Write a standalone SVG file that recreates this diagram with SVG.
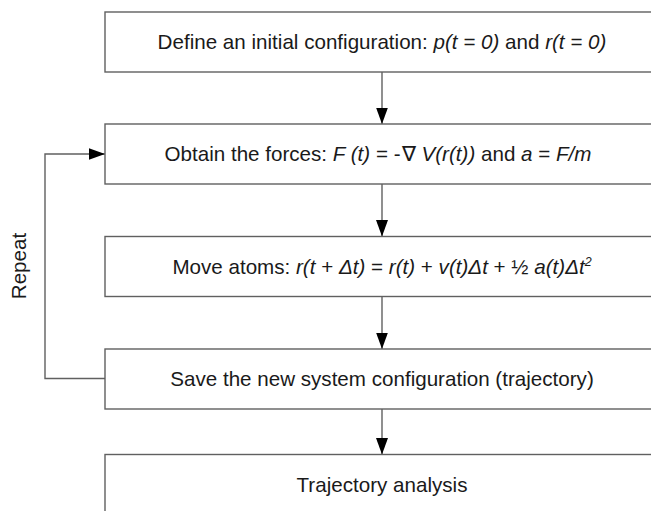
<svg xmlns="http://www.w3.org/2000/svg" width="651" height="511" viewBox="0 0 651 511">
  <style>
    .box { fill: #ffffff; stroke: #606060; stroke-width: 1.4; }
    .lbl { font-family: "Liberation Sans", Arial, sans-serif; font-size: 20.6px; fill: #1a1a1a; text-anchor: middle; }
    .it { font-style: italic; }
    .wire { fill: none; stroke: #606060; stroke-width: 1.4; }
  </style>
  <defs>
    <marker id="head" markerUnits="userSpaceOnUse" markerWidth="17" markerHeight="12" refX="16.5" refY="6" orient="auto">
      <path d="M0,0 L16.5,6 L0,12 z" fill="#000000"/>
    </marker>
  </defs>

  <rect width="651" height="511" fill="#ffffff"/>

  <g id="connectors">
    <line class="wire" x1="382" y1="72" x2="382" y2="124" marker-end="url(#head)"/>
    <line class="wire" x1="382" y1="184" x2="382" y2="236.5" marker-end="url(#head)"/>
    <line class="wire" x1="382" y1="296.5" x2="382" y2="349" marker-end="url(#head)"/>
    <line class="wire" x1="382" y1="409" x2="382" y2="454.5" marker-end="url(#head)"/>
    <polyline class="wire" points="105,378.5 45,378.5 45,154 105,154" marker-end="url(#head)"/>
    <text class="lbl" transform="translate(26,266) rotate(-90)">Repeat</text>
  </g>

  <g id="init">
    <rect class="box" x="105" y="12" width="555" height="60"/>
    <text class="lbl" x="382" y="49.2">Define an initial configuration: <tspan class="it">p(t = 0)</tspan> and <tspan class="it">r(t = 0)</tspan></text>
  </g>

  <g id="forces">
    <rect class="box" x="105" y="124" width="555" height="60"/>
    <text class="lbl" x="378" y="161.2">Obtain the forces: <tspan class="it">F (t)</tspan> = -<tspan dx="1">∇</tspan><tspan class="it" dx="6">V(r(t))</tspan> and <tspan class="it">a</tspan> = <tspan class="it">F/m</tspan></text>
  </g>

  <g id="move">
    <rect class="box" x="105" y="236.5" width="555" height="60"/>
    <text class="lbl" x="382" y="273.7">Move atoms: <tspan class="it">r(t</tspan> + <tspan class="it">Δt)</tspan> = <tspan class="it">r(t)</tspan> + <tspan class="it">v(t)Δt</tspan> + ½ <tspan class="it">a(t)Δt</tspan><tspan class="it" font-size="12.5" dy="-7.5">2</tspan></text>
  </g>

  <g id="save">
    <rect class="box" x="105" y="349" width="555" height="60"/>
    <text class="lbl" x="382" y="386.2">Save the new system configuration (trajectory)</text>
  </g>

  <g id="analysis">
    <rect class="box" x="105" y="454.5" width="555" height="70"/>
    <text class="lbl" x="382" y="492">Trajectory analysis</text>
  </g>
</svg>
